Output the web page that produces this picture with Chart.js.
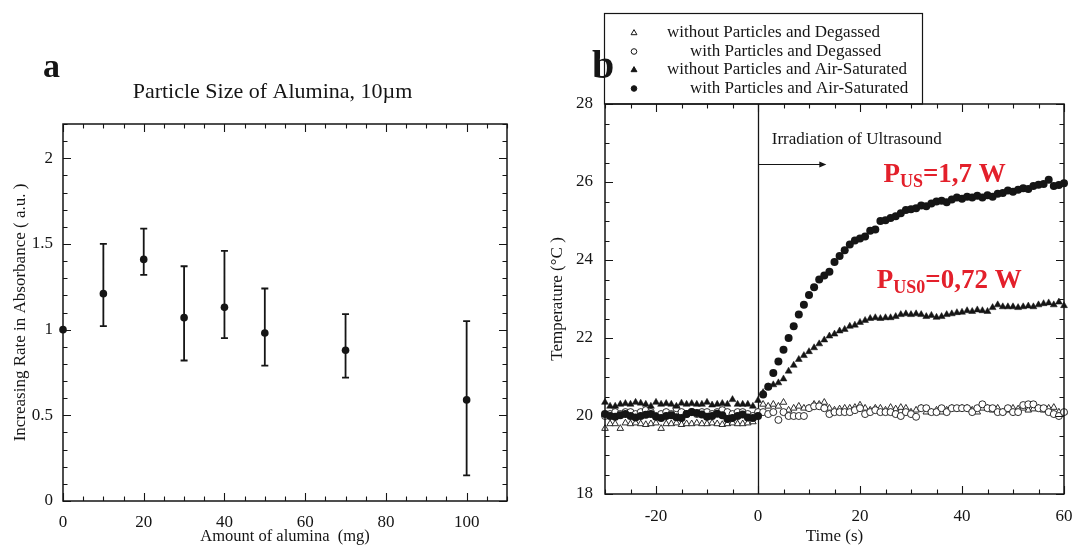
<!DOCTYPE html>
<html><head><meta charset="utf-8">
<script src="https://cdn.jsdelivr.net/npm/chart.js@4"></script>
<style>
html,body{margin:0;padding:0;background:#fff;}
#wrap{position:relative;width:1075px;height:547px;overflow:hidden;background:#fff;}
#pa{position:absolute;left:0;top:0;width:540px;height:547px;}
#pb{position:absolute;left:540px;top:0;width:535px;height:547px;}
</style></head><body>
<div id="wrap"><div id="pa"><canvas id="ca"></canvas></div><div id="pb"><canvas id="cb"></canvas></div></div>
<script>
// ---------- Panel a data ----------
const amountA = [0, 10, 20, 30, 40, 50, 70, 100];
const rateA = [1.00, 1.21, 1.41, 1.07, 1.13, 0.98, 0.88, 0.59];
const errHighA = [null, 1.50, 1.59, 1.37, 1.46, 1.24, 1.09, 1.05];
const errLowA = [null, 1.02, 1.32, 0.82, 0.95, 0.79, 0.72, 0.15];
const xTicksA = [0, 20, 40, 60, 80, 100];
const yTicksA = [0, 0.5, 1, 1.5, 2];

// ---------- Panel b data ----------
const timeB = [-30,-29,-28,-27,-26,-25,-24,-23,-22,-21,-20,-19,-18,-17,-16,-15,-14,-13,-12,-11,-10,-9,-8,-7,-6,-5,-4,-3,-2,-1,
  0,1,2,3,4,5,6,7,8,9,10,11,12,13,14,15,16,17,18,19,20,21,22,23,24,25,26,27,28,29,30,
  31,32,33,34,35,36,37,38,39,40,41,42,43,44,45,46,47,48,49,50,51,52,53,54,55,56,57,58,59,60];
const noPartDegassed = [19.68,19.80,19.80,19.68,19.82,19.80,19.82,19.80,19.78,19.80,19.82,19.68,19.80,19.80,19.82,19.78,19.80,19.80,19.82,19.80,19.80,19.82,19.80,19.78,19.80,19.82,19.80,19.80,19.82,19.85,
  20.10,20.30,20.25,20.30,20.25,20.35,20.15,20.20,20.25,20.20,20.20,20.30,20.30,20.35,20.20,20.15,20.18,20.20,20.20,20.22,
  20.28,20.20,20.15,20.20,20.20,20.15,20.22,20.18,20.22,20.20,20.10,20.15,20.20,20.10,20.10,20.15,20.10,20.15,20.20,20.18,
  20.20,20.20,20.15,20.10,20.20,20.20,20.15,20.20,20.10,20.15,20.20,20.18,20.20,20.15,20.18,20.20,20.15,20.20,20.22,20.10,20.10];
const partDegassed = [20.00,20.05,20.10,20.05,20.10,20.10,20.05,20.10,20.15,20.10,20.00,20.05,20.10,20.05,20.20,20.10,20.05,20.10,20.05,20.10,20.10,20.05,20.10,20.15,20.10,20.05,20.10,20.10,20.05,20.00,
  20.10,20.10,20.05,20.10,19.90,20.10,20.00,20.00,20.00,20.00,20.20,20.25,20.25,20.20,20.05,20.10,20.10,20.10,20.10,20.15,
  20.20,20.05,20.10,20.15,20.10,20.10,20.10,20.05,20.00,20.10,20.05,19.98,20.20,20.20,20.10,20.10,20.20,20.10,20.20,20.20,
  20.20,20.20,20.10,20.20,20.30,20.20,20.20,20.10,20.10,20.20,20.10,20.10,20.28,20.30,20.30,20.20,20.20,20.10,20.05,20.00,20.10];
const noPartAir = [20.35,20.25,20.25,20.30,20.32,20.30,20.35,20.33,20.30,20.25,20.35,20.30,20.32,20.30,20.25,20.33,20.30,20.32,20.30,20.30,20.35,20.28,20.30,20.32,20.30,20.42,20.30,20.30,20.30,20.25,
  20.40,20.60,20.75,20.80,20.85,20.95,21.15,21.30,21.45,21.55,21.65,21.75,21.85,21.95,22.05,22.10,22.18,22.22,22.30,22.33,
  22.40,22.45,22.50,22.52,22.50,22.52,22.52,22.55,22.60,22.62,22.60,22.62,22.60,22.55,22.58,22.53,22.55,22.60,22.62,22.65,
  22.66,22.70,22.68,22.72,22.70,22.68,22.78,22.85,22.80,22.80,22.80,22.78,22.80,22.82,22.80,22.85,22.88,22.90,22.85,22.92,22.83];
const partAir = [20.05,20.00,19.98,20.02,20.05,20.00,19.96,20.00,20.03,20.05,19.98,19.95,20.00,20.02,19.97,19.95,20.05,20.10,20.08,20.04,19.98,20.00,20.06,20.02,19.92,19.95,20.00,20.04,19.96,19.95,
  20.00,20.55,20.75,21.10,21.40,21.70,22.00,22.30,22.60,22.85,23.10,23.30,23.50,23.60,23.70,23.95,24.10,24.25,24.40,24.50,
  24.55,24.60,24.75,24.78,25.00,25.02,25.08,25.12,25.20,25.28,25.30,25.33,25.40,25.38,25.45,25.50,25.52,25.48,25.55,25.60,
  25.57,25.62,25.60,25.65,25.60,25.66,25.62,25.70,25.72,25.78,25.75,25.80,25.84,25.82,25.90,25.93,25.95,26.06,25.90,25.92,25.97];
const xTicksB = [-20, 0, 20, 40, 60];
const yTicksB = [18, 20, 22, 24, 26, 28];
const legendB = ['without Particles and Degassed', 'with Particles and Degassed',
                 'without Particles and Air-Saturated', 'with Particles and Air-Saturated'];

// ---------- common ----------
const SERIF = '"Liberation Serif", "Times New Roman", serif';
const INK = '#151515';
Chart.defaults.font.family = SERIF;
Chart.defaults.color = INK;

function frameAndTicks(chart, c) {
  const {ctx, chartArea: {left, right, top, bottom}} = chart;
  const xs = chart.scales.x, ys = chart.scales.y;
  ctx.save();
  ctx.strokeStyle = INK;
  ctx.lineWidth = 1.1;
  ctx.beginPath();
  const isMaj = (v, m) => Math.abs(v / m - Math.round(v / m)) < 1e-6;
  for (let k = 0; ; k++) {
    const v = xs.min + k * c.xMinor;
    if (v > xs.max + 1e-9) break;
    const L = isMaj(v, c.xMajor) ? c.major : c.minor;
    const p = Math.round(xs.getPixelForValue(v)) + 0.5;
    ctx.moveTo(p, bottom); ctx.lineTo(p, bottom - L);
    ctx.moveTo(p, top); ctx.lineTo(p, top + L);
  }
  for (let k = 0; ; k++) {
    const v = ys.min + k * c.yMinor;
    if (v > ys.max + 1e-9) break;
    const L = isMaj(v, c.yMajor) ? c.major : c.minor;
    const p = Math.round(ys.getPixelForValue(v)) + 0.5;
    ctx.moveTo(left, p); ctx.lineTo(left + L, p);
    ctx.moveTo(right, p); ctx.lineTo(right - L, p);
  }
  ctx.stroke();
  ctx.lineWidth = 1.5;
  ctx.strokeRect(left, top, right - left, bottom - top);
  ctx.restore();
}

function tickCfg(values, size, pad) {
  return {
    afterBuildTicks: s => { s.ticks = values.map(v => ({value: v})); },
    ticks: {padding: pad, font: {size: size}, color: INK, maxRotation: 0, autoSkip: false,
            callback: v => String(v)}
  };
}
function fixSize(prop, val) {
  return s => { s[prop] = val; s.paddingLeft = 0; s.paddingRight = 0; s.paddingTop = 0; s.paddingBottom = 0; };
}

// ---------- Panel a ----------
const plugA = {
  id: 'decorA',
  beforeDatasetsDraw(chart) {
    const {ctx, scales: {x, y}} = chart;
    ctx.save();
    ctx.strokeStyle = INK; ctx.lineWidth = 1.8;
    ctx.beginPath();
    amountA.forEach((a, i) => {
      if (errLowA[i] == null) return;
      const px = x.getPixelForValue(a), p1 = y.getPixelForValue(errLowA[i]), p2 = y.getPixelForValue(errHighA[i]);
      ctx.moveTo(px, p1); ctx.lineTo(px, p2);
      ctx.moveTo(px - 3.5, p1); ctx.lineTo(px + 3.5, p1);
      ctx.moveTo(px - 3.5, p2); ctx.lineTo(px + 3.5, p2);
    });
    ctx.stroke();
    ctx.restore();
  },
  afterDraw(chart) {
    frameAndTicks(chart, {xMinor: 5, xMajor: 20, yMinor: 0.1, yMajor: 0.5, major: 8, minor: 4.5});
    const ctx = chart.ctx;
    ctx.save();
    ctx.fillStyle = INK;
    ctx.textBaseline = 'alphabetic';
    ctx.textAlign = 'center';
    ctx.font = '22px ' + SERIF;
    ctx.fillText('Particle Size of Alumina, 10\u00b5m', 272.5, 98);
    ctx.textAlign = 'left';
    ctx.font = 'bold 34px ' + SERIF;
    ctx.fillText('a', 43, 77);
    ctx.restore();
  }
};

new Chart(document.getElementById('ca'), {
  type: 'scatter',
  data: {datasets: [{
    label: 'Increasing Rate in Absorbance',
    data: amountA.map((a, i) => ({x: a, y: rateA[i]})),
    pointRadius: 3.8, pointBackgroundColor: INK, pointBorderColor: INK, pointBorderWidth: 0,
    showLine: false, clip: false
  }]},
  options: {
    responsive: true, maintainAspectRatio: false, animation: false, events: [],
    layout: {padding: {left: 0, right: 33, top: 124, bottom: 0}},
    plugins: {legend: {display: false}, tooltip: {enabled: false}},
    scales: {
      x: Object.assign({type: 'linear', min: 0, max: 110,
        afterFit: fixSize('height', 46),
        grid: {display: false, drawTicks: false}, border: {display: false},
        title: {display: true, text: 'Amount of alumina  (mg)', font: {size: 16.5}, color: INK, padding: {top: 0, bottom: 0}}
      }, tickCfg(xTicksA, 17, 11.5)),
      y: Object.assign({type: 'linear', min: 0, max: 2.2,
        afterFit: fixSize('width', 63),
        grid: {display: false, drawTicks: false}, border: {display: false},
        title: {display: true, text: 'Increasing Rate in Absorbance ( a.u. )', font: {size: 17}, color: INK, padding: {top: 10, bottom: 0}}
      }, tickCfg(yTicksA, 17, 10))
    }
  },
  plugins: [plugA]
});

// ---------- Panel b ----------
const RED = '#e3202b';
function drawSubText(ctx, x, y, parts) {
  let cx = x;
  parts.forEach(([t, size, dy]) => {
    ctx.font = 'bold ' + size + 'px ' + SERIF;
    ctx.fillText(t, cx, y + dy);
    cx += ctx.measureText(t).width;
  });
}

const plugB = {
  id: 'decorB',
  beforeDatasetsDraw(chart) {
    const {ctx, chartArea: {top, bottom}, scales: {x, y}} = chart;
    ctx.save();
    ctx.strokeStyle = INK; ctx.fillStyle = INK; ctx.lineWidth = 1.3;
    const x0 = Math.round(x.getPixelForValue(0)) + 0.5;
    ctx.beginPath(); ctx.moveTo(x0, top); ctx.lineTo(x0, bottom); ctx.stroke();
    const ay = Math.round(y.getPixelForValue(26.47)) + 0.5;
    const ax2 = x.getPixelForValue(13.4);
    ctx.lineWidth = 1.1;
    ctx.beginPath(); ctx.moveTo(x0, ay); ctx.lineTo(ax2 - 5, ay); ctx.stroke();
    ctx.beginPath(); ctx.moveTo(ax2, ay); ctx.lineTo(ax2 - 7, ay - 3); ctx.lineTo(ax2 - 7, ay + 3); ctx.closePath(); ctx.fill();
    ctx.font = '17px ' + SERIF;
    ctx.textBaseline = 'middle'; ctx.textAlign = 'left';
    ctx.fillText('Irradiation of Ultrasound', x.getPixelForValue(2.7), y.getPixelForValue(27.1));
    ctx.restore();
  },
  afterDraw(chart) {
    frameAndTicks(chart, {xMinor: 5, xMajor: 20, yMinor: 0.5, yMajor: 2, major: 8, minor: 4.5});
    const {ctx, scales: {x, y}} = chart;
    ctx.save();
    ctx.strokeStyle = INK; ctx.lineWidth = 1.2;
    ctx.strokeRect(64.5, 13.5, 318, 90.5);
    const rowsY = [33, 51.5, 70, 88.5];
    const textX = [127, 150, 127, 150];
    const mx = 94;
    chart.data.datasets.forEach((ds, i) => {
      const yy = rowsY[i];
      ctx.fillStyle = ds.pointBackgroundColor; ctx.strokeStyle = INK; ctx.lineWidth = 1;
      ctx.beginPath();
      if (ds.pointStyle === 'triangle') {
        const r = 3.4;
        ctx.moveTo(mx, yy - r); ctx.lineTo(mx + r * 0.866, yy + r * 0.5); ctx.lineTo(mx - r * 0.866, yy + r * 0.5); ctx.closePath();
      } else {
        ctx.arc(mx, yy, 2.8, 0, Math.PI * 2);
      }
      ctx.fill(); ctx.stroke();
      ctx.fillStyle = INK;
      ctx.font = '17px ' + SERIF;
      ctx.textBaseline = 'middle'; ctx.textAlign = 'left';
      ctx.fillText(ds.label, textX[i], yy);
    });
    ctx.fillStyle = RED;
    ctx.textBaseline = 'alphabetic'; ctx.textAlign = 'left';
    drawSubText(ctx, x.getPixelForValue(24.6), y.getPixelForValue(26.0),
      [['P', 27, 0], ['US', 18, 5], ['=1,7 W', 27, 0]]);
    drawSubText(ctx, x.getPixelForValue(23.3), y.getPixelForValue(23.29),
      [['P', 27, 0], ['US0', 18, 5], ['=0,72 W', 27, 0]]);
    ctx.fillStyle = INK;
    ctx.font = 'bold 40px ' + SERIF;
    ctx.fillText('b', 52, 78);
    ctx.restore();
  }
};

new Chart(document.getElementById('cb'), {
  type: 'scatter',
  data: {datasets: [
    {label: legendB[0], data: timeB.map((t, i) => ({x: t, y: noPartDegassed[i]})), order: 3,
     pointStyle: 'triangle', pointRadius: 3.8, pointBackgroundColor: '#ffffff', pointBorderColor: INK, pointBorderWidth: 0.9, showLine: false, clip: false},
    {label: legendB[1], data: timeB.map((t, i) => ({x: t, y: partDegassed[i]})), order: 2,
     pointStyle: 'circle', pointRadius: 3.5, pointBackgroundColor: '#ffffff', pointBorderColor: INK, pointBorderWidth: 0.9, showLine: false, clip: false},
    {label: legendB[2], data: timeB.map((t, i) => ({x: t, y: noPartAir[i]})), order: 1,
     pointStyle: 'triangle', pointRadius: 4, pointBackgroundColor: INK, pointBorderColor: INK, pointBorderWidth: 0.5, showLine: false, clip: false},
    {label: legendB[3], data: timeB.map((t, i) => ({x: t, y: partAir[i]})), order: 0,
     pointStyle: 'circle', pointRadius: 4, pointBackgroundColor: INK, pointBorderColor: INK, pointBorderWidth: 0, showLine: false, clip: false}
  ]},
  options: {
    responsive: true, maintainAspectRatio: false, animation: false, events: [],
    layout: {padding: {left: 0, right: 11, top: 104, bottom: 0}},
    plugins: {legend: {display: false}, tooltip: {enabled: false}},
    scales: {
      x: Object.assign({type: 'linear', min: -30, max: 60,
        afterFit: fixSize('height', 53),
        grid: {display: false, drawTicks: false}, border: {display: false},
        title: {display: true, text: 'Time (s)', font: {size: 17}, color: INK, padding: {top: 0, bottom: 0}}
      }, tickCfg(xTicksB, 17, 12.5)),
      y: Object.assign({type: 'linear', min: 18, max: 28,
        afterFit: fixSize('width', 65),
        grid: {display: false, drawTicks: false}, border: {display: false},
        title: {display: true, text: 'Temperature (\u00b0C )', font: {size: 17}, color: INK, padding: {top: 7.5, bottom: 0}}
      }, tickCfg(yTicksB, 17, 12))
    }
  },
  plugins: [plugB]
});
</script>
</body></html>
